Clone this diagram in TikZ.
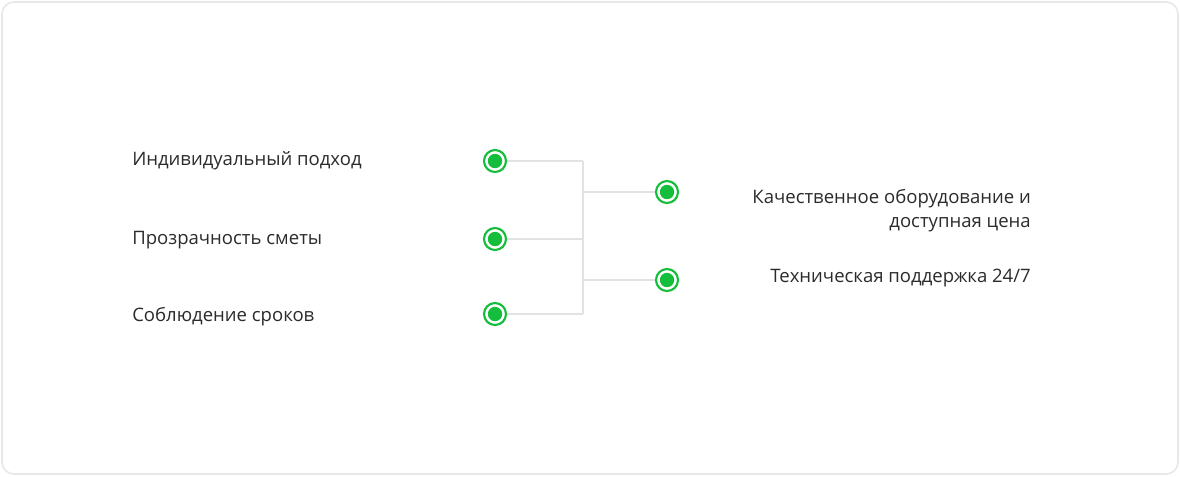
\documentclass[tikz,border=0pt]{standalone}
\usepackage{fontspec}
\setmainfont{Open Sans}
\usepackage{xcolor}
\definecolor{dotgreen}{HTML}{14BE3C}
\definecolor{linkgray}{HTML}{E2E2E2}
\definecolor{txtgray}{HTML}{2B2B2B}
\definecolor{framegray}{HTML}{E8E8E8}

\begin{document}
\begin{tikzpicture}[x=0.75pt, y=-0.75pt, font=\fontsize{13.9}{18}\selectfont,
  dot/.style={circle, draw=dotgreen, line width=1.6pt, fill=white, minimum size=16.5pt, inner sep=0pt,
    path picture={\fill[dotgreen] (path picture bounding box.center) circle (5.4pt);}},
  link/.style={draw=linkgray, line width=1.5pt},
  lbl/.style={text=txtgray, inner sep=0pt}]
  \useasboundingbox (0,0) rectangle (1180,476);
  % card
  \draw[framegray, line width=1.2pt, rounded corners=9pt] (2,2) rectangle (1178,474);
  % spine
  \coordinate (top) at (583,161);
  \coordinate (bot) at (583,314);
  \draw[link] (top) -- (bot);
  % left dots
  \node[dot] (l1) at (495,161) {};
  \node[dot] (l2) at (495,239) {};
  \node[dot] (l3) at (495,314) {};
  % right dots
  \node[dot] (r1) at (667,192) {};
  \node[dot] (r2) at (667,280) {};
  \draw[link] (l1) -- (l1 -| top);
  \draw[link] (l2) -- (l2 -| top);
  \draw[link] (l3) -- (l3 -| top);
  \draw[link] (r1 -| top) -- (r1);
  \draw[link] (r2 -| top) -- (r2);
  % labels
  \node[lbl, anchor=west] (t1) at (132,161) {Индивидуальный подход};
  \node[lbl, anchor=west] (t2) at (132,240) {Прозрачность сметы};
  \node[lbl, anchor=west] (t3) at (132,317) {Соблюдение сроков};
  \node[lbl, anchor=east, align=right] (t4) at (1031,211) {Качественное оборудование и\\доступная цена};
  \node[lbl, anchor=east] (t5) at (1031,278) {Техническая поддержка 24/7};
\end{tikzpicture}
\end{document}
